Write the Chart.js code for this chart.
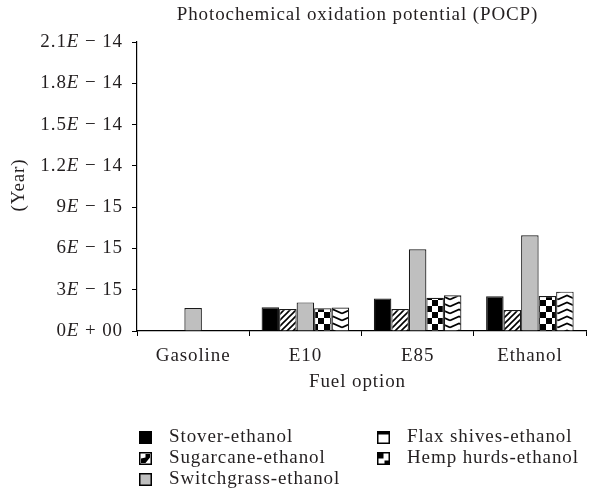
<!DOCTYPE html>
<html>
<head>
<meta charset="utf-8">
<script src="https://cdn.jsdelivr.net/npm/chart.js@4.4.1/dist/chart.umd.min.js"></script>
<style>
  html, body { margin: 0; padding: 0; background: #fff; }
  #wrap { width: 589px; height: 495px; position: relative; }
</style>
</head>
<body>
<div id="wrap"><canvas id="chart"></canvas></div>
<script>
// values in units of 1E-15 (per year)
const categories = ['Gasoline', 'E10', 'E85', 'Ethanol'];
const stover      = [null, 1.72, 2.37, 2.52];
const sugarcane   = [null, 1.60, 1.60, 1.53];
const switchgrass = [1.67, 2.08, 5.94, 6.95];
const flax        = [null, 1.65, 2.42, 2.54];
const hemp        = [null, 1.70, 2.60, 2.86];
const seriesNames = ['Stover-ethanol', 'Sugarcane-ethanol', 'Switchgrass-ethanol', 'Flax shives-ethanol', 'Hemp hurds-ethanol'];
const yTickValues = [0, 3, 6, 9, 12, 15, 18, 21];
const yTickLabels = [['0', 'E', ' + 00'], ['3', 'E', ' \u2212 15'], ['6', 'E', ' \u2212 15'], ['9', 'E', ' \u2212 15'],
                     ['1.2', 'E', ' \u2212 14'], ['1.5', 'E', ' \u2212 14'], ['1.8', 'E', ' \u2212 14'], ['2.1', 'E', ' \u2212 14']];

const SERIF = '"Liberation Serif", "DejaVu Serif", serif';
const FS = 19;
const SPACING = '0.9px';
const TEXT = '#231f20';

// --- fill patterns ---
const ctx0 = document.getElementById('chart').getContext('2d');
function pat(w, h, draw) {
    const c = document.createElement('canvas');
    c.width = w; c.height = h;
    const g = c.getContext('2d');
    g.fillStyle = '#fff';
    g.fillRect(0, 0, w, h);
    draw(g);
    return ctx0.createPattern(c, 'repeat');
}
const hatch = pat(6, 6, g => {
    g.strokeStyle = '#000';
    g.lineWidth = 1.6;
    g.beginPath();
    g.moveTo(-1, 7); g.lineTo(7, -1);
    g.moveTo(-4, 4); g.lineTo(4, -4);
    g.moveTo(2, 10); g.lineTo(10, 2);
    g.stroke();
});
const checker = pat(12, 12, g => {
    g.fillStyle = '#000';
    g.fillRect(0, 0, 6, 6);
    g.fillRect(6, 6, 6, 6);
});
const zigzag = pat(18, 7, g => {
    g.strokeStyle = '#000';
    g.lineWidth = 1.6;
    g.beginPath();
    g.moveTo(0, 5.5); g.lineTo(9, 1.5); g.lineTo(18, 5.5);
    g.stroke();
});

const fills = ['#000', hatch, '#bfbfbf', checker, zigzag];
const seriesData = [stover, sugarcane, switchgrass, flax, hemp];

// legend icons (mimic the original small markers)
function drawIcon(g, i, x, y, s) {
    g.save();
    g.fillStyle = '#fff';
    g.fillRect(x, y, s, s);
    g.fillStyle = '#000';
    if (i === 0) {
        g.fillRect(x, y, s, s);
    } else if (i === 1) {
        g.beginPath();
        g.moveTo(x + 2, y + s - 2); g.lineTo(x + 2, y + s / 2); g.lineTo(x + s / 2, y + s / 2 - 1);
        g.lineTo(x + s / 2, y + 2); g.lineTo(x + s - 2, y + 2); g.lineTo(x + s - 2, y + s / 2 - 1);
        g.lineTo(x + s / 2, y + s - 2);
        g.closePath(); g.fill();
    } else if (i === 2) {
        g.fillStyle = '#bfbfbf';
        g.fillRect(x, y, s, s);
    } else if (i === 3) {
        g.fillRect(x, y, s, 3.5);
    } else if (i === 4) {
        g.fillRect(x, y, s / 2, s / 2);
        g.fillRect(x + s / 2 + 1, y + s / 2 + 2, s / 2 - 1, s / 2 - 2);
    }
    g.strokeStyle = '#000';
    g.lineWidth = 1.5;
    g.strokeRect(x + 0.75, y + 0.75, s - 1.5, s - 1.5);
    g.restore();
}

// 見出し・軸タイトル・凡例・y目盛ラベルを描画
const decorPlugin = {
    id: 'decor',
    beforeDraw(chart) {
        chart.ctx.letterSpacing = SPACING;
    },
    afterDraw(chart) {
        const g = chart.ctx;
        const area = chart.chartArea;
        const cx = (area.left + area.right) / 2 - 4;
        g.save();
        g.letterSpacing = SPACING;
        g.fillStyle = TEXT;
        g.textBaseline = 'middle';
        g.font = FS + 'px ' + SERIF;

        // title
        g.textAlign = 'center';
        g.fillText('Photochemical oxidation potential (POCP)', cx, 15);
        // x axis title
        g.fillText('Fuel option', cx, 382);

        // y axis title
        g.save();
        g.translate(19, 185);
        g.rotate(-Math.PI / 2);
        g.fillText('(Year)', 0, 0);
        g.restore();

        // y tick labels with italic E
        const yScale = chart.scales.y;
        g.textAlign = 'left';
        yTickValues.forEach((v, k) => {
            const parts = yTickLabels[k];
            const fonts = [FS + 'px ' + SERIF, 'italic ' + FS + 'px ' + SERIF, FS + 'px ' + SERIF];
            let total = 0;
            parts.forEach((p, j) => { g.font = fonts[j]; total += g.measureText(p).width; });
            let x = area.left - 14 - total;
            const y = yScale.getPixelForValue(v);
            parts.forEach((p, j) => {
                g.font = fonts[j];
                g.fillText(p, x, y);
                x += g.measureText(p).width;
            });
        });

        // legend (two columns)
        g.font = FS + 'px ' + SERIF;
        const cols = [[0, 1, 2], [3, 4]];
        const colX = [139, 377];
        const rowY = [437, 458, 479];
        cols.forEach((col, ci) => {
            col.forEach((si, ri) => {
                drawIcon(g, si, colX[ci], rowY[ri] - 6, 13);
                g.fillStyle = TEXT;
                g.fillText(seriesNames[si], colX[ci] + 30, rowY[ri]);
            });
        });
        g.restore();
    }
};

new Chart(ctx0, {
    type: 'bar',
    data: {
        labels: categories,
        datasets: seriesData.map((d, i) => ({
            label: seriesNames[i],
            data: d,
            backgroundColor: fills[i],
            borderColor: '#1a1a1a',
            borderWidth: 1.2,
            categoryPercentage: 0.78,
            barPercentage: 1.0
        }))
    },
    options: {
        responsive: true,
        maintainAspectRatio: false,
        animation: false,
        layout: { padding: { top: 42, right: 3, left: 0, bottom: 0 } },
        plugins: {
            legend: { display: false },
            tooltip: { enabled: false },
            title: { display: false }
        },
        scales: {
            x: {
                afterFit: s => { s.height = 164; },
                grid: { drawOnChartArea: false, drawTicks: true, tickLength: 5, color: '#000', offset: true },
                border: { color: '#000', width: 1.2 },
                ticks: { color: TEXT, font: { family: SERIF, size: FS }, padding: 9 }
            },
            y: {
                min: 0,
                max: 21,
                afterFit: s => { s.width = 137; },
                afterBuildTicks: s => { s.ticks = yTickValues.map(v => ({ value: v })); },
                grid: { drawOnChartArea: false, drawTicks: true, tickLength: 5, color: '#000' },
                border: { color: '#000', width: 1.2 },
                ticks: { display: true, color: 'rgba(0,0,0,0)', font: { family: SERIF, size: FS } }
            }
        }
    },
    plugins: [decorPlugin]
});
</script>
</body>
</html>
